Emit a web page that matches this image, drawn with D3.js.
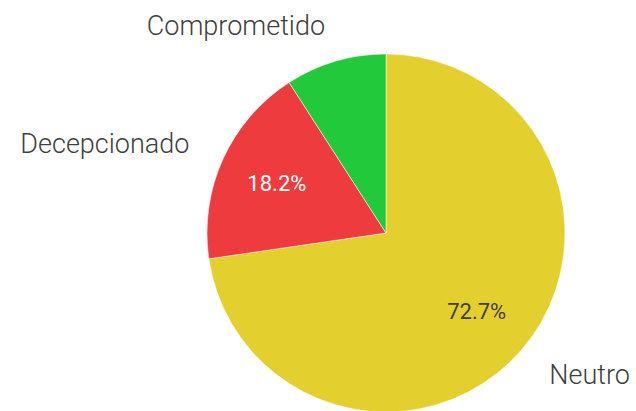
<!DOCTYPE html>
<html>
<head>
<meta charset="utf-8">
<script src="https://cdn.jsdelivr.net/npm/d3@7"></script>
<style>
  body { margin: 0; background: #fff; }
  text { font-family: Roboto, "Noto Sans", sans-serif; }
</style>
</head>
<body>
<svg id="chart" width="636" height="411"></svg>
<script>
"use strict";

var categories = ["Neutro", "Decepcionado", "Comprometido"];
var values = [72.7, 18.2, 9.1];
var colors = ["#e3cf2d", "#ee3b3d", "#22c93a"];
var pctLabels = ["72.7%", "18.2%", ""];
var pctColors = ["#3f3f3f", "#ffffff", "#ffffff"];

var data = categories.map((c, i) => ({
  name: c,
  value: values[i],
  color: colors[i],
  pct: pctLabels[i],
  pctColor: pctColors[i],
}));

var cx = 386,
  cy = 233,
  radius = 179;

var svg = d3.select("#chart");
var g = svg.append("g").attr("transform", `translate(${cx},${cy})`);

var pie = d3.pie().sort(null).value((d) => d.value);
var arcs = pie(data);

var arc = d3.arc().innerRadius(0).outerRadius(radius);
var inner = d3.arc().innerRadius(radius * 0.67).outerRadius(radius * 0.67);
var outer = d3.arc().innerRadius(216).outerRadius(216);

g.selectAll("path.slice")
  .data(arcs)
  .enter()
  .append("path")
  .attr("class", "slice")
  .attr("d", arc)
  .attr("fill", (d) => d.data.color)
  .attr("stroke", "#fff")
  .attr("stroke-width", 0.5);

// values inside the slices
g.selectAll("text.pct")
  .data(arcs)
  .enter()
  .append("text")
  .attr("class", "pct")
  .attr("transform", (d) => `translate(${inner.centroid(d)})`)
  .attr("text-anchor", "middle")
  .attr("dy", "0.35em")
  .style("font-size", "22px")
  .attr("fill", (d) => d.data.pctColor)
  .text((d) => d.data.pct);

// category names outside
g.selectAll("text.name")
  .data(arcs)
  .enter()
  .append("text")
  .attr("class", "name")
  .attr("transform", (d) => `translate(${outer.centroid(d)})`)
  .attr("text-anchor", (d) => {
    var mid = (d.startAngle + d.endAngle) / 2;
    return mid < Math.PI ? "start" : "end";
  })
  .attr("dy", "0.35em")
  .style("font-size", "27px")
  .style("font-weight", 300)
  .attr("fill", "#404040")
  .text((d) => d.data.name);
</script>
</body>
</html>
